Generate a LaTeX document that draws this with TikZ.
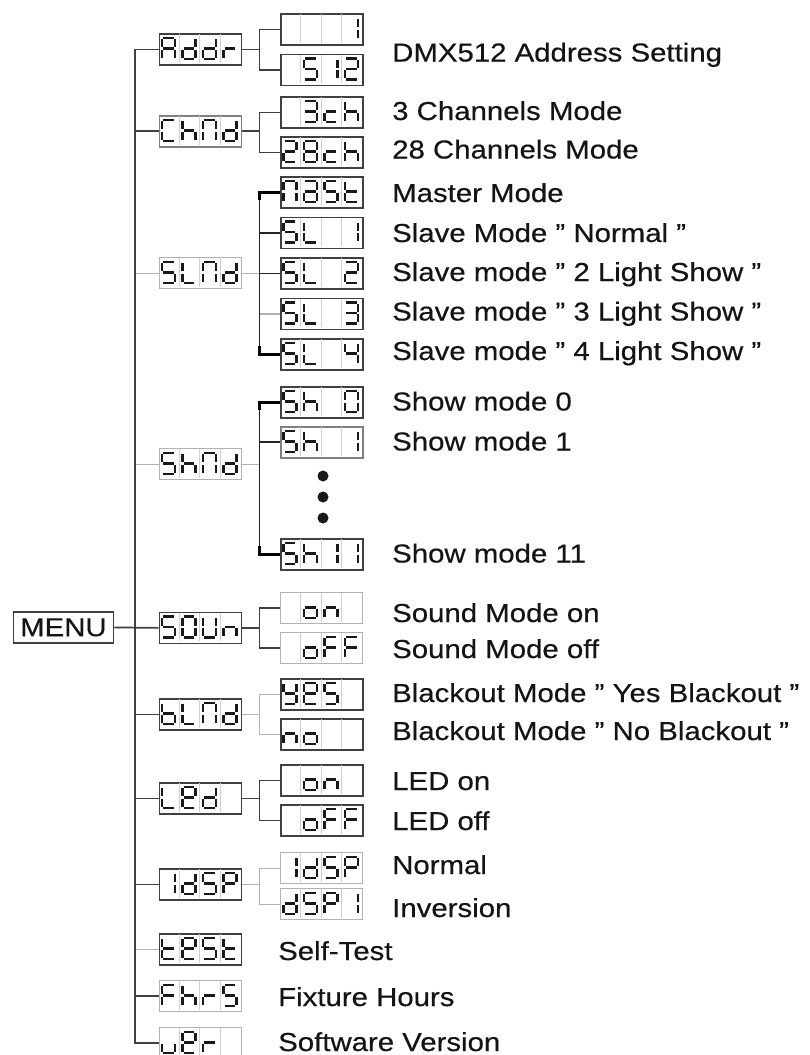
\documentclass[tikz,border=0pt]{standalone}
\usepackage{fontspec}
\setmainfont[FakeStretch=1.13,FakeBold=0.4]{Liberation Sans}
\usetikzlibrary{calc}
\tikzset{
 dk/.style={draw=black!75, line width=1.7},
 lt/.style={draw=black!30, line width=1.2},
 bk/.style={draw=black, line width=3},
 md/.style={draw=black!85, line width=1.8},
 framedk/.style={draw=black!75, line width=1.8},
 framemd/.style={draw=black!50, line width=1.5},
 framelt/.style={draw=black!30, line width=1.3},
 cellsep/.style={draw=black!18, line width=0.9},
 seg/.style={draw=black!90, line width=2.7},
 lbl/.style={inner sep=0, anchor=base west, text=black!92, font=\fontsize{26}{30}\selectfont},
 dot/.style={circle, fill=black!90, inner sep=0, minimum size=11},
}
\newcommand\qt{\symbol{"22}}
\newcommand\defglyph[2]{\expandafter\def\csname lcdg:#1\endcsname{#2}}
\defglyph{A}{a,b,c,e,f,g}
\defglyph{d}{b,c,d,e,g}
\defglyph{r}{e,g}
\defglyph{C}{a,d,e,f}
\defglyph{h}{c,e,f,g}
\defglyph{M}{a,b,c,e,f}
\defglyph{S}{a,c,d,f,g}
\defglyph{L}{d,e,f}
\defglyph{a}{a,b,c,d,e,g}
\defglyph{t}{d,e,f,g}
\defglyph{1}{b,c}
\defglyph{2}{a,b,d,e,g}
\defglyph{3}{a,b,c,d,g}
\defglyph{4}{b,c,f,g}
\defglyph{0}{a,b,c,d,e,f}
\defglyph{8}{a,b,c,d,e,f,g}
\defglyph{5}{a,c,d,f,g}
\defglyph{c}{d,e,g}
\defglyph{o}{c,d,e,g}
\defglyph{n}{c,e,g}
\defglyph{U}{b,c,d,e,f}
\defglyph{F}{a,e,f,g}
\defglyph{Y}{b,c,d,f,g}
\defglyph{E}{a,b,d,e,f,g}
\defglyph{b}{c,d,e,f,g}
\defglyph{P}{a,b,e,f,g}
\defglyph{v}{c,d,e}
\defglyph{z}{x}
\def\SGa{(4.8,5)--(15.2,5)}
\def\SGb{(16.5,6.3)--(16.5,14.2)}
\def\SGc{(16.5,16.8)--(16.5,24.7)}
\def\SGd{(4.8,26)--(15.2,26)}
\def\SGe{(3.5,16.8)--(3.5,24.7)}
\def\SGf{(3.5,6.3)--(3.5,14.2)}
\def\SGg{(4.8,15.5)--(15.2,15.5)}
\def\SGx{}
\newcommand\lcd[6]{%
  \node[#5, minimum width=#4, minimum height=31, inner sep=0, anchor=north west] (#1) at (#2,#3) {};
  \foreach \k in {1,2,3} {\draw[cellsep] ({#2+\k*#4/4},{#3+1.2}) -- ({#2+\k*#4/4},{#3+29.8});}
  \foreach \g [count=\i from 0] in {#6} {%
    \begin{scope}[shift={({#2+\i*#4/4},#3)}]
      \expandafter\let\expandafter\curglyph\csname lcdg:\g\endcsname
      \foreach \s in \curglyph {\expandafter\let\expandafter\curseg\csname SG\s\endcsname \draw[seg] \curseg;}
    \end{scope}}%
}
\begin{document}
\begin{tikzpicture}[x=1pt,y=-1pt]
\clip (0,0) rectangle (809,1055);
\fill[white] (0,0) rectangle (809,1055);

\node[framedk, minimum width=100, minimum height=31, inner sep=0, anchor=north west, font=\fontsize{26}{30}\selectfont, text=black!92] (menu) at (12.5,611) {MENU};

% level 1
\lcd{addr}{158.5}{33}{82}{framedk}{A,d,d,r}
\lcd{chmd}{158.5}{115}{82}{framemd}{C,h,M,d}
\lcd{slmd}{158.5}{257}{82}{framelt}{S,L,M,d}
\lcd{shmd}{158.5}{448}{82}{framelt}{S,h,M,d}
\lcd{soun}{158.5}{611.5}{82}{framedk}{S,0,U,n}
\lcd{blmd}{158.5}{698}{82}{framedk}{b,L,M,d}
\lcd{led}{158.5}{782}{82}{framedk}{L,E,d,z}
\lcd{idsp}{158.5}{868}{82}{framedk}{1,d,S,P}
\lcd{test}{158.5}{933}{82}{framedk}{t,E,S,t}
\lcd{fhrs}{158.5}{980}{82}{framelt}{F,h,r,S}
\lcd{ver}{158.5}{1027}{82}{framelt}{v,E,r,z}

% level 2
\lcd{a1}{280}{13}{82}{framedk}{z,z,z,1}
\lcd{a512}{280}{53.5}{82}{framedk}{z,5,1,2}
\lcd{ch3}{280}{96}{82}{framedk}{z,3,c,h}
\lcd{ch28}{280}{136}{82}{framedk}{2,8,c,h}
\lcd{mast}{280}{176}{82}{framedk}{M,a,S,t}
\lcd{sl1}{280}{216.5}{82}{framedk}{S,L,z,1}
\lcd{sl2}{280}{257}{82}{framedk}{S,L,z,2}
\lcd{sl3}{280}{297.5}{82}{framedk}{S,L,z,3}
\lcd{sl4}{280}{338}{82}{framedk}{S,L,z,4}
\lcd{sh0}{280}{386}{82}{framedk}{S,h,z,0}
\lcd{sh1}{280}{426}{82}{framemd}{S,h,z,1}
\lcd{sh11}{280}{538}{82}{framedk}{S,h,1,1}
\lcd{son}{280}{592}{82}{framelt}{z,o,n,z}
\lcd{soff}{280}{632}{82}{framelt}{z,o,F,F}
\lcd{yes}{280}{678}{82}{framedk}{Y,E,S,z}
\lcd{no}{280}{718}{82}{framedk}{n,o,z,z}
\lcd{lon}{280}{764}{82}{framedk}{z,o,n,z}
\lcd{loff}{280}{804}{82}{framedk}{z,o,F,F}
\lcd{idsp2}{280}{852}{82}{framelt}{1,d,S,P}
\lcd{dspi}{280}{888}{82}{framelt}{d,S,P,1}

\node[dot] (d1) at (323,476) {};
\node[dot] (d2) at (323,497) {};
\node[dot] (d3) at (323,518) {};

\coordinate (tr) at (135,0);
\coordinate (jn) at (259.5,0);

% trunk branches
\draw[lt] (slmd.west) -- (slmd.west -| tr);
\draw[lt] (shmd.west) -- (shmd.west -| tr);
\draw[lt] (test.west) -- (test.west -| tr);
\draw[dk] (chmd.west) -- (chmd.west -| tr);
\draw[dk] (blmd.west) -- (blmd.west -| tr);
\draw[dk] (led.west) -- (led.west -| tr);
\draw[dk] (idsp.west) -- (idsp.west -| tr);
\draw[dk] (fhrs.west) -- (fhrs.west -| tr);
\draw[dk] (menu.east) -- (soun.west);
\draw[dk] (addr.west) -- (addr.west -| tr) -- (ver.west -| tr) -- (ver.west);

% Addr
\draw[dk] (addr.east) -- (addr.east -| jn);
\draw[dk] (a1.west) -- (a1.west -| jn) -- (a512.west -| jn) -- (a512.west);
% ChMd
\draw[dk] (chmd.east) -- (chmd.east -| jn);
\draw[dk] (ch3.west) -- (ch3.west -| jn) -- (ch28.west -| jn) -- (ch28.west);
% SLMd
\draw[lt] (slmd.east) -- (slmd.east -| jn);
\draw[lt] (sl3.west) -- (sl3.west -| jn);
\draw[md] (mast.west -| jn) -- (sl4.west -| jn);
\draw[md] (sl1.west) -- (sl1.west -| jn);
\draw[md] (sl2.west) -- (sl2.west -| jn);
\draw[bk] (mast.west) -- (mast.west -| jn) -- ($(mast.west -| jn)+(0,8)$);
\draw[bk] (sl4.west) -- (sl4.west -| jn) -- ($(sl4.west -| jn)+(0,-8)$);
% ShMd
\draw[lt] (shmd.east) -- (shmd.east -| jn);
\draw[md] (sh0.west -| jn) -- (sh11.west -| jn);
\draw[md] (sh1.west) -- (sh1.west -| jn);
\draw[bk] (sh0.west) -- (sh0.west -| jn) -- ($(sh0.west -| jn)+(0,8)$);
\draw[bk] (sh11.west) -- (sh11.west -| jn) -- ($(sh11.west -| jn)+(0,-8)$);
% SOUn
\draw[dk] (soun.east) -- (soun.east -| jn);
\draw[dk] (son.west) -- (son.west -| jn) -- (soff.west -| jn) -- (soff.west);
% bLMd
\draw[lt] (blmd.east) -- (blmd.east -| jn);
\draw[lt] (yes.west) -- (yes.west -| jn) -- (no.west -| jn) -- (no.west);
% LEd
\draw[dk] (led.east) -- (led.east -| jn);
\draw[dk] (lon.west) -- (lon.west -| jn) -- (loff.west -| jn) -- (loff.west);
% IdSP
\draw[lt] (idsp.east) -- (idsp.east -| jn);
\draw[lt] (idsp2.west) -- (idsp2.west -| jn) -- (dspi.west -| jn) -- (dspi.west);

% labels
\node[lbl] (t-addr) at (392,61.5) {DMX512 Address Setting};
\node[lbl] (t-ch3) at (392,120) {3 Channels Mode};
\node[lbl] (t-ch28) at (392,158.5) {28 Channels Mode};
\node[lbl] (t-mast) at (392,202) {Master Mode};
\node[lbl] (t-sl1) at (392,242) {Slave Mode \qt{} Normal \qt};
\node[lbl] (t-sl2) at (392,281) {Slave mode \qt{} 2 Light Show \qt};
\node[lbl] (t-sl3) at (392,320.5) {Slave mode \qt{} 3 Light Show \qt};
\node[lbl] (t-sl4) at (392,360) {Slave mode \qt{} 4 Light Show \qt};
\node[lbl] (t-sh0) at (392,410.5) {Show mode 0};
\node[lbl] (t-sh1) at (392,450.5) {Show mode 1};
\node[lbl] (t-sh11) at (392,562.5) {Show mode 11};
\node[lbl] (t-son) at (392,622) {Sound Mode on};
\node[lbl] (t-soff) at (392,658) {Sound Mode off};
\node[lbl] (t-yes) at (392,702) {Blackout Mode \qt{} Yes Blackout \qt};
\node[lbl] (t-no) at (392,740) {Blackout Mode \qt{} No Blackout \qt};
\node[lbl] (t-lon) at (392,790) {LED on};
\node[lbl] (t-loff) at (392,830) {LED off};
\node[lbl] (t-norm) at (392,874) {Normal};
\node[lbl] (t-inv) at (392,917) {Inversion};
\node[lbl] (t-test) at (278,960) {Self-Test};
\node[lbl] (t-fhrs) at (278,1006) {Fixture Hours};
\node[lbl] (t-ver) at (278,1051) {Software Version};
\end{tikzpicture}
\end{document}
